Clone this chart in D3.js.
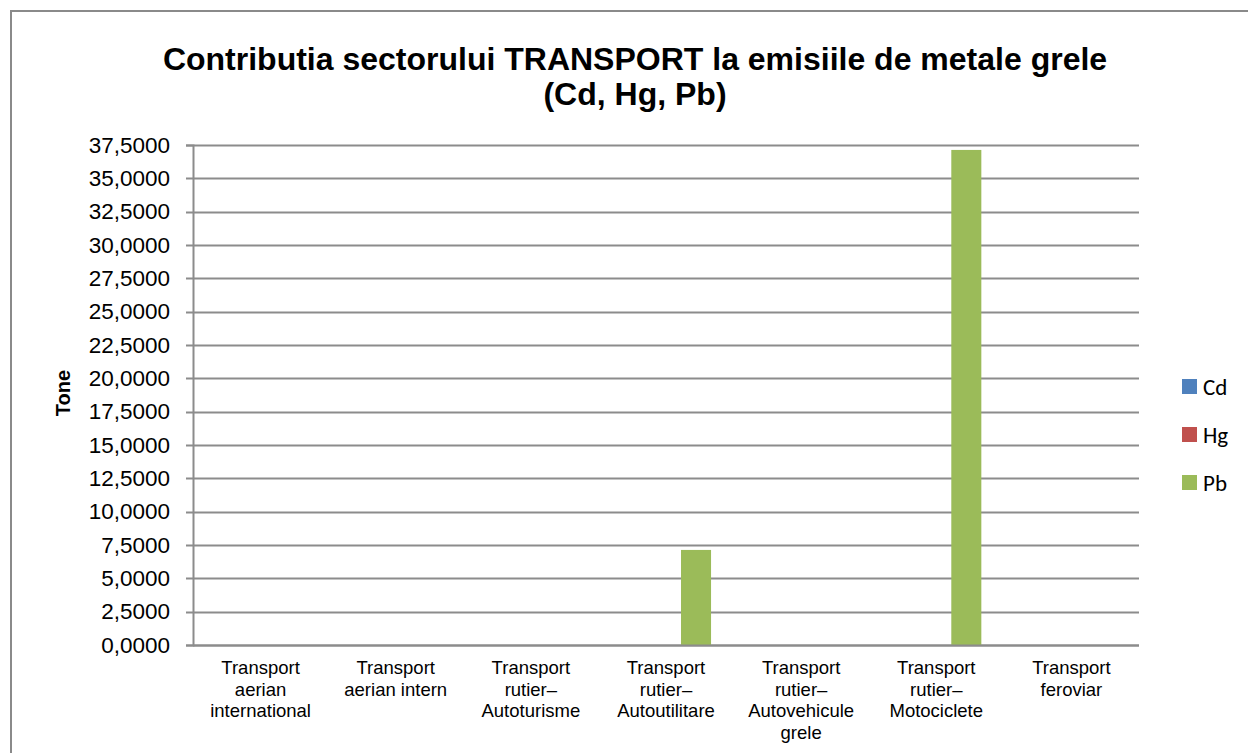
<!DOCTYPE html>
<html>
<head>
<meta charset="utf-8">
<script src="https://cdn.jsdelivr.net/npm/d3@7"></script>
<style>
  html, body { margin: 0; padding: 0; background: #fff; }
  svg { display: block; }
  text { font-family: Arial, "Liberation Sans", sans-serif; fill: #000; }
</style>
</head>
<body>
<svg id="chart"></svg>
<script>
// data
const categories = [
  ["Transport", "aerian", "international"],
  ["Transport", "aerian intern"],
  ["Transport", "rutier\u2013", "Autoturisme"],
  ["Transport", "rutier\u2013", "Autoutilitare"],
  ["Transport", "rutier\u2013", "Autovehicule", "grele"],
  ["Transport", "rutier\u2013", "Motociclete"],
  ["Transport", "feroviar"]
];
const seriesNames = ["Cd", "Hg", "Pb"];
const cdValues = [0, 0, 0, 0, 0, 0, 0];
const hgValues = [0, 0, 0, 0, 0, 0, 0];
const pbValues = [0, 0, 0, 7.13, 0, 37.13, 0];
const yTicks = [0, 2.5, 5, 7.5, 10, 12.5, 15, 17.5, 20, 22.5, 25, 27.5, 30, 32.5, 35, 37.5];
const colors = ["#4F81BD", "#C0504D", "#9BBB59"];

const width = 1248, height = 753;
const margin = { top: 145, right: 109, bottom: 108, left: 193 };

const svg = d3.select("#chart")
    .attr("width", width)
    .attr("height", height);

// chart frame (only top and left edges show)
svg.append("path")
    .attr("d", "M11," + height + "V11H" + width)
    .attr("fill", "none")
    .attr("stroke", "#8a8a8a")
    .attr("stroke-width", 2);

// title
const title = svg.append("text")
    .attr("x", 635)
    .attr("y", 70)
    .attr("text-anchor", "middle")
    .style("font-weight", "bold")
    .style("font-size", "32px");
title.append("tspan").attr("x", 635).text("Contributia sectorului TRANSPORT la emisiile de metale grele");
title.append("tspan").attr("x", 635).attr("dy", 35).text("(Cd, Hg, Pb)");

const series = [cdValues, hgValues, pbValues];
const catIdx = d3.range(categories.length);

const x0 = d3.scaleBand()
    .domain(catIdx)
    .range([margin.left, width - margin.right])
    .paddingInner(0)
    .paddingOuter(0);

const x1 = d3.scaleBand()
    .domain(d3.range(seriesNames.length))
    .range([0, x0.bandwidth()])
    .paddingInner(0)
    .paddingOuter(0.75);

const y = d3.scaleLinear()
    .domain([0, 37.5])
    .range([height - margin.bottom, margin.top]);

const locale = d3.formatLocale({ decimal: ",", thousands: ".", grouping: [3], currency: ["", ""] });
const fmt = locale.format(".4f");

// gridlines
svg.append("g")
    .selectAll("line")
    .data(yTicks)
    .join("line")
    .attr("x1", margin.left - 7)
    .attr("x2", width - margin.right)
    .attr("y1", d => Math.round(y(d)) + 0.5)
    .attr("y2", d => Math.round(y(d)) + 0.5)
    .attr("stroke", "#8c8c8c")
    .attr("stroke-width", 2);

// y axis
const yAxis = svg.append("g")
    .attr("transform", "translate(" + margin.left + ",0)")
    .call(d3.axisLeft(y).tickValues(yTicks).tickFormat(fmt).tickSize(7).tickPadding(16));
yAxis.select(".domain").attr("stroke", "#8c8c8c").attr("stroke-width", 2);
yAxis.selectAll(".tick line").remove();
yAxis.selectAll(".tick text")
    .style("font-size", "22.5px")
    .attr("fill", "#000");

svg.append("text")
    .attr("transform", "translate(70,393) rotate(-90)")
    .attr("text-anchor", "middle")
    .style("font-weight", "bold")
    .style("font-size", "20px")
    .text("Tone");

// bars
svg.append("g")
    .selectAll("g")
    .data(series)
    .join("g")
    .attr("fill", (d, i) => colors[i])
    .each(function(vals, si) {
        d3.select(this).selectAll("rect")
            .data(vals)
            .join("rect")
            .attr("x", (d, ci) => x0(ci) + x1(si))
            .attr("width", x1.bandwidth())
            .attr("y", d => y(d))
            .attr("height", d => y(0) - y(d));
    });

// x axis line
svg.append("line")
    .attr("x1", margin.left)
    .attr("x2", width - margin.right)
    .attr("y1", y(0) + 0.5)
    .attr("y2", y(0) + 0.5)
    .attr("stroke", "#8c8c8c")
    .attr("stroke-width", 2);

// category labels
const catLabels = svg.append("g")
    .selectAll("text")
    .data(categories)
    .join("text")
    .attr("text-anchor", "middle")
    .attr("y", y(0) + 29)
    .style("font-size", "18.5px");
catLabels.each(function(lines, i) {
    const cx = x0(i) + x0.bandwidth() / 2;
    d3.select(this).selectAll("tspan")
        .data(lines)
        .join("tspan")
        .attr("x", cx)
        .attr("dy", (d, k) => k === 0 ? 0 : 21.5)
        .text(d => d);
});

// legend
const legend = svg.append("g")
    .selectAll("g")
    .data(seriesNames)
    .join("g")
    .attr("transform", (d, i) => "translate(1182," + (379 + i * 48) + ")");
legend.append("rect")
    .attr("width", 15)
    .attr("height", 15)
    .attr("fill", (d, i) => colors[i]);
legend.append("text")
    .attr("x", 21)
    .attr("y", 16)
    .style("font-family", "Carlito, Lato, sans-serif")
    .style("font-size", "23px")
    .text(d => d);
</script>
</body>
</html>
